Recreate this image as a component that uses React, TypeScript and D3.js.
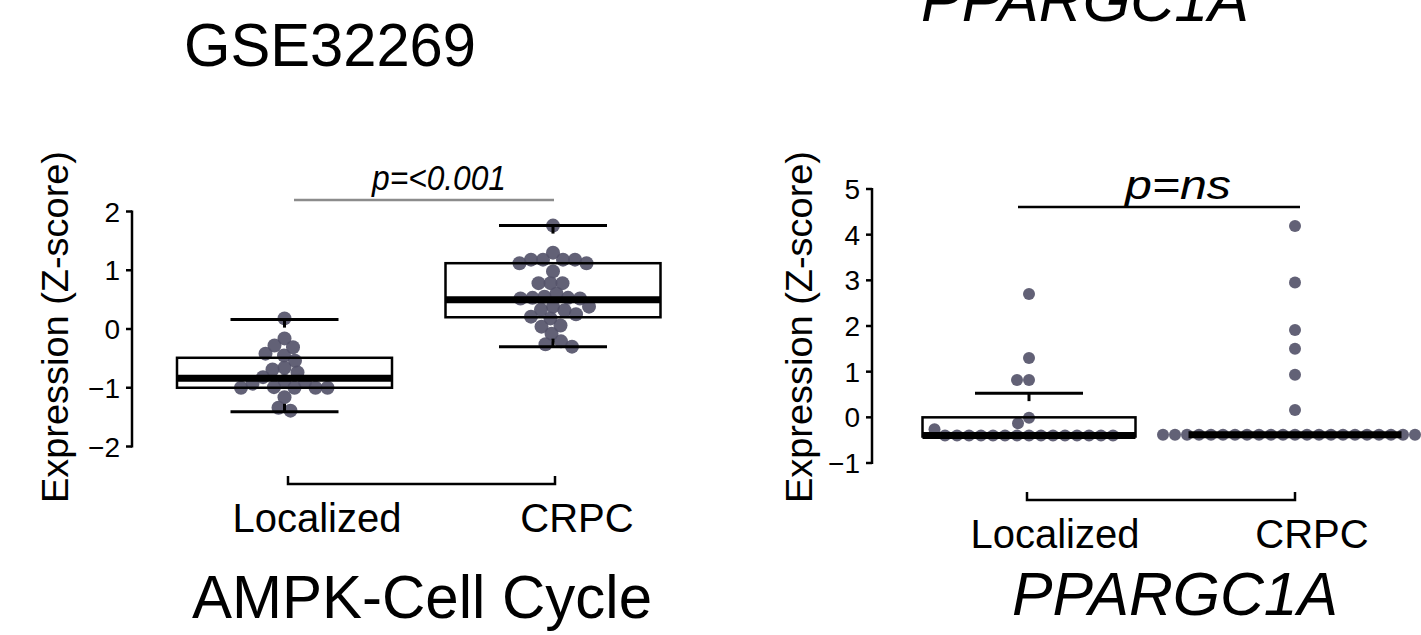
import React from 'react'
import * as d3 from 'd3'

const W = 1421
const H = 635
const font = "'Liberation Sans', Arial, Helvetica, sans-serif"
const dotColor = '#55546a'

const groups = ['Localized', 'CRPC']

// AMPK-Cell Cycle (GSE32269), Z-scores
const ampkLocalized = [0.18, -0.16, -0.28, -0.31, -0.42, -0.45, -0.54, -0.66, -0.69, -0.74, -0.82, -0.88, -0.9, -0.93, -0.99, -1.0, -1.0, -1.0, -1.0, -1.16, -1.34, -1.39]
const ampkCRPC = [1.76, 1.3, 1.18, 1.18, 1.18, 1.18, 1.12, 1.12, 0.98, 0.78, 0.78, 0.78, 0.6, 0.55, 0.53, 0.53, 0.52, 0.52, 0.38, 0.38, 0.33, 0.32, 0.25, 0.21, 0.18, 0.06, 0.04, -0.08, -0.21, -0.26, -0.3]
const ampkLow = [-1.41, -0.3]
const ampkQ1 = [-1.0, 0.2]
const ampkMedian = [-0.84, 0.5]
const ampkQ3 = [-0.49, 1.12]
const ampkHigh = [0.16, 1.76]
const ampkTicks = [-2, -1, 0, 1, 2]

// PPARGC1A
const pgcLocalized = [2.7, 1.3, 0.82, 0.82, -0.01, -0.13, -0.4, -0.4, -0.4, -0.4, -0.4, -0.4, -0.4, -0.4, -0.4, -0.4, -0.4, -0.4, -0.4, -0.4, -0.4, -0.26]
const pgcCRPC = [4.19, 2.95, 1.91, 1.5, 0.93, 0.16, -0.38, -0.38, -0.38, -0.38, -0.38, -0.38, -0.38, -0.38, -0.38, -0.38, -0.38, -0.38, -0.38, -0.38, -0.38, -0.38, -0.38, -0.38, -0.38, -0.38, -0.38, -0.38]
const pgcLow = [-0.42, -0.38]
const pgcQ1 = [-0.42, -0.38]
const pgcMedian = [-0.4, -0.38]
const pgcQ3 = [0, -0.38]
const pgcHigh = [0.53, -0.38]
const pgcTicks = [-1, 0, 1, 2, 3, 4, 5]

// simple beeswarm: each dot goes to the nearest free horizontal offset
function swarm(values: number[], y: (v: number) => number, minDist: number) {
  const placed: { dx: number; y: number }[] = []
  return values.map(v => {
    const yy = y(v)
    let dx = 0
    for (let k = 0; k < 400; k++) {
      const cands = k === 0 ? [0] : [-k * 0.5, k * 0.5]
      let ok = false
      for (const c of cands) {
        if (placed.every(p => Math.hypot(p.dx - c, p.y - yy) >= minDist)) {
          dx = c
          ok = true
          break
        }
      }
      if (ok) break
    }
    placed.push({ dx, y: yy })
    return { dx, y: yy }
  })
}

interface PanelProps {
  y: d3.ScaleLinear<number, number>
  x: d3.ScalePoint<string>
  labelX: d3.ScalePoint<string>
  bracketX: d3.ScalePoint<string>
  axisX: number
  ticks: number[]
  series: number[][]
  low: number[]
  q1: number[]
  median: number[]
  q3: number[]
  high: number[]
  r: number
  minDist: number
  boxHalf: number
  capHalf: number
  labelY: number
  bracketY: number
  yTitleX: number
  pText: string
  pColor: string
  pLine: [number, number, number]
  pTextX: number
  pTextY: number
  pSize: number
  pLen: number
}

const Panel: React.FC<PanelProps> = p => {
  const [y0, y1] = p.y.range()
  const yMid = 327
  return (
    <g>
      {/* y axis */}
      <line x1={p.axisX} x2={p.axisX} y1={y0 + 1} y2={y1 - 1} stroke="#000" strokeWidth={2.5} />
      {p.ticks.map(t => (
        <g key={t}>
          <line x1={p.axisX - 6} x2={p.axisX} y1={p.y(t)} y2={p.y(t)} stroke="#000" strokeWidth={2.5} />
          <text x={p.axisX - 12} y={p.y(t) + 10} textAnchor="end" fontSize={28} fontFamily={font}>
            {t < 0 ? '\u2212' + Math.abs(t) : t}
          </text>
        </g>
      ))}
      <text
        transform={`translate(${p.yTitleX},${yMid}) rotate(-90)`}
        textAnchor="middle"
        fontSize={37}
        fontFamily={font}
        textLength={352}
        lengthAdjust="spacingAndGlyphs"
      >
        Expression (Z-score)
      </text>

      {/* box backgrounds */}
      {groups.map((g, i) => (
        <rect
          key={g}
          x={p.x(g)! - p.boxHalf}
          y={p.y(p.q3[i])}
          width={p.boxHalf * 2}
          height={p.y(p.q1[i]) - p.y(p.q3[i])}
          fill="#fff"
        />
      ))}

      {/* dots */}
      {groups.map((g, i) =>
        swarm(p.series[i], p.y, p.minDist).map((d, j) => (
          <circle key={g + j} cx={p.x(g)! + d.dx} cy={d.y} r={p.r} fill={dotColor} fillOpacity={0.92} />
        ))
      )}

      {/* box outlines, medians, whiskers */}
      {groups.map((g, i) => {
        const cx = p.x(g)!
        return (
          <g key={g} stroke="#000" fill="none">
            <rect
              x={cx - p.boxHalf}
              y={p.y(p.q3[i])}
              width={p.boxHalf * 2}
              height={p.y(p.q1[i]) - p.y(p.q3[i])}
              strokeWidth={2.5}
            />
            <line x1={cx - p.boxHalf} x2={cx + p.boxHalf} y1={p.y(p.median[i])} y2={p.y(p.median[i])} strokeWidth={7} />
            <line x1={cx - p.capHalf} x2={cx + p.capHalf} y1={p.y(p.high[i])} y2={p.y(p.high[i])} strokeWidth={3} />
            <line x1={cx - p.capHalf} x2={cx + p.capHalf} y1={p.y(p.low[i])} y2={p.y(p.low[i])} strokeWidth={3} />
            <line x1={cx} x2={cx} y1={p.y(p.high[i])} y2={Math.min(p.y(p.high[i]) + 8, p.y(p.q3[i]))} strokeWidth={3} />
            <line x1={cx} x2={cx} y1={p.y(p.low[i])} y2={Math.max(p.y(p.low[i]) - 8, p.y(p.q1[i]))} strokeWidth={3} />
          </g>
        )
      })}

      {/* p value bracket */}
      <line x1={p.pLine[0]} x2={p.pLine[1]} y1={p.pLine[2]} y2={p.pLine[2]} stroke={p.pColor} strokeWidth={2.5} />
      <text
        x={p.pTextX}
        y={p.pTextY}
        textAnchor="middle"
        fontStyle="italic"
        fontSize={p.pSize}
        fontFamily={font}
        textLength={p.pLen}
        lengthAdjust="spacingAndGlyphs"
      >
        {p.pText}
      </text>

      {/* category axis */}
      <path
        d={`M${p.bracketX(groups[0])},${p.bracketY - 8}V${p.bracketY}H${p.bracketX(groups[1])}V${p.bracketY - 8}`}
        fill="none"
        stroke="#000"
        strokeWidth={2.5}
      />
      {groups.map(g => (
        <text key={g} x={p.labelX(g)} y={p.labelY} textAnchor="middle" fontSize={40} fontFamily={font}>
          {g}
        </text>
      ))}
    </g>
  )
}

export default function App() {
  const yL = d3.scaleLinear().domain([-2, 2]).range([446.5, 211.5])
  const xL = d3.scalePoint<string>().domain(groups).range([284.5, 553])
  const labelL = d3.scalePoint<string>().domain(groups).range([317, 577])
  const bracketL = d3.scalePoint<string>().domain(groups).range([288, 555])

  const yR = d3.scaleLinear().domain([-1, 5]).range([463, 189])
  const xR = d3.scalePoint<string>().domain(groups).range([1029, 1295])
  const labelR = d3.scalePoint<string>().domain(groups).range([1055, 1312])
  const bracketR = d3.scalePoint<string>().domain(groups).range([1027, 1295])

  return (
    <svg
      width={W}
      height={H}
      viewBox={`0 0 ${W} ${H}`}
      style={{ position: 'absolute', left: 0, top: 0, display: 'block', background: '#fff' }}
    >
      <text x={330} y={66} textAnchor="middle" fontSize={62} fontFamily={font} textLength={292} lengthAdjust="spacingAndGlyphs">GSE32269</text>
      <text x={1085} y={21} textAnchor="middle" fontSize={62} fontStyle="italic" fontFamily={font} textLength={328} lengthAdjust="spacingAndGlyphs">PPARGC1A</text>

      <Panel
        y={yL} x={xL} labelX={labelL} bracketX={bracketL}
        axisX={132} ticks={ampkTicks}
        series={[ampkLocalized, ampkCRPC]}
        low={ampkLow} q1={ampkQ1} median={ampkMedian} q3={ampkQ3} high={ampkHigh}
        r={7} minDist={12} boxHalf={107.5} capHalf={54}
        labelY={532} bracketY={484} yTitleX={68}
        pText="p=<0.001" pColor="#8c8c8c" pLine={[294, 554, 200]}
        pTextX={439} pTextY={190} pSize={35} pLen={134}
      />
      <Panel
        y={yR} x={xR} labelX={labelR} bracketX={bracketR}
        axisX={872} ticks={pgcTicks}
        series={[pgcLocalized, pgcCRPC]}
        low={pgcLow} q1={pgcQ1} median={pgcMedian} q3={pgcQ3} high={pgcHigh}
        r={6} minDist={12} boxHalf={106.5} capHalf={54}
        labelY={548} bracketY={500} yTitleX={812}
        pText="p=ns" pColor="#000" pLine={[1018, 1300, 207]}
        pTextX={1178} pTextY={199} pSize={40} pLen={106}
      />

      <text x={422} y={618} textAnchor="middle" fontSize={62} fontFamily={font} textLength={460} lengthAdjust="spacingAndGlyphs">AMPK-Cell Cycle</text>
      <text x={1175} y={615} textAnchor="middle" fontSize={62} fontStyle="italic" fontFamily={font} textLength={326} lengthAdjust="spacingAndGlyphs">PPARGC1A</text>
    </svg>
  )
}
